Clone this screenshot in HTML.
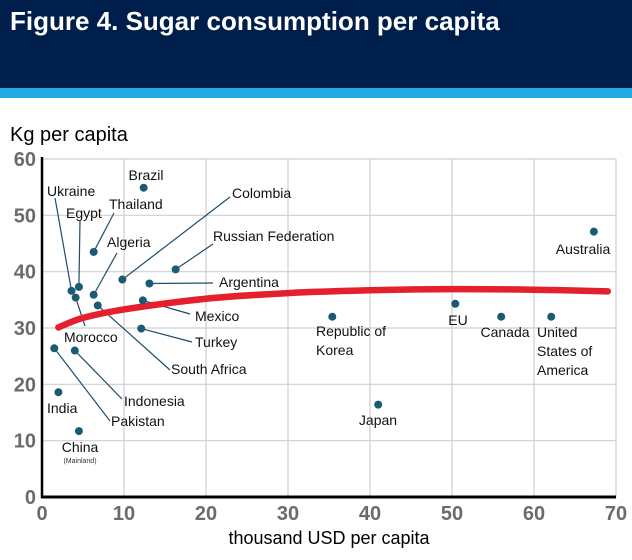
<!DOCTYPE html>
<html><head><meta charset="utf-8"><style>
html,body{margin:0;padding:0;background:#fff;}
body{width:632px;height:560px;overflow:hidden;position:relative;font-family:"Liberation Sans",sans-serif;}
#hdr{position:absolute;left:0;top:0;width:632px;height:88px;background:#001e4b;}
#stripe{position:absolute;left:0;top:88px;width:632px;height:10px;background:#22a9e1;}
#title{position:absolute;left:10px;top:6px;color:#fff;font-weight:bold;font-size:26px;}
svg{position:absolute;left:0;top:0;}
</style></head><body>
<div id="hdr"><div id="title">Figure 4. Sugar consumption per capita</div></div>
<div id="stripe"></div>
<svg id="chart" width="632" height="560"></svg>
<script>
const xTicks=[0,10,20,30,40,50,60,70];
const yTicks=[0,10,20,30,40,50,60];
const countries=["Brazil","Thailand","Colombia","Russian Federation","Argentina","Ukraine","Egypt","Morocco","Algeria","South Africa","Mexico","Turkey","Pakistan","Indonesia","India","China","Republic of Korea","Japan","EU","Canada","United States of America","Australia"];
const gdp=[12.4,6.3,9.8,16.3,13.1,3.6,4.5,4.1,6.3,6.8,12.3,12.1,1.5,4.0,2.0,4.5,35.4,41.0,50.4,56.0,62.1,67.3];
const sugar=[54.9,43.5,38.6,40.4,37.9,36.6,37.3,35.4,35.9,34.0,34.9,29.9,26.4,26.0,18.6,11.7,32.0,16.4,34.3,32.0,32.0,47.1];
const trendX=[2,5,10,20,30,40,50,60,69];
const trendY=[30.1,31.8,33.3,35.2,36.2,36.7,36.9,36.8,36.5];

const L=42,R=616,T=159,B=497;
const sx=v=>L+(v/70)*(R-L);
const sy=v=>B-(v/60)*(B-T);
const NS="http://www.w3.org/2000/svg";
const svg=document.getElementById('chart');
function mk(tag,attrs,parent){const e=document.createElementNS(NS,tag);for(const k in attrs)e.setAttribute(k,attrs[k]);(parent||svg).appendChild(e);return e;}

xTicks.forEach(t=>{if(t===0)return;
 const g=mk('line',{x1:sx(t),x2:sx(t),y1:T,y2:B,stroke:'#cfcfcf','stroke-width':1.2});
 
 });
yTicks.forEach(t=>{if(t===0)return;
 const g=mk('line',{x1:L,x2:R,y1:sy(t),y2:sy(t),stroke:'#cfcfcf','stroke-width':1.2});
 
 });
const ya=mk('line',{x1:L,x2:L,y1:T-2,y2:B+1,stroke:'#000','stroke-width':2.5});


const xa=mk('line',{x1:L-1,x2:R,y1:B,y2:B,stroke:'#000','stroke-width':3});


xTicks.forEach(t=>{const e=mk('text',{x:sx(t),y:B+23,'text-anchor':'middle','font-size':20,'font-weight':'bold',fill:'#6b6b6b'});e.textContent=t;
 
 });
yTicks.forEach(t=>{const e=mk('text',{x:L-6,y:sy(t)+7,'text-anchor':'end','font-size':20,'font-weight':'bold',fill:'#6b6b6b'});e.textContent=t;
 
 });
let e=mk('text',{x:10,y:141,'font-size':20,fill:'#000'});e.textContent='Kg  per capita';


e=mk('text',{x:329,y:544,'text-anchor':'middle','font-size':18,fill:'#000'});e.textContent='thousand USD per capita';



const labels=[
 [0,["Brazil"],146,180,'middle',null],
 [1,["Thailand"],109,209,'start',[114,213]],
 [2,["Colombia"],232,198,'start',[230,197]],
 [3,["Russian Federation"],213,241,'start',[213,244]],
 [4,["Argentina"],219,287,'start',[213,283]],
 [5,["Ukraine"],47,196,'start',[55,198]],
 [6,["Egypt"],66,218,'start',[80,221]],
 [7,["Morocco"],64,342,'start',[85,326]],
 [8,["Algeria"],107,247,'start',[117,253]],
 [9,["South Africa"],171,374,'start',[170,370]],
 [10,["Mexico"],195,321,'start',[190,314]],
 [11,["Turkey"],195,347,'start',[192,342]],
 [12,["Pakistan"],111,426,'start',[110,421]],
 [13,["Indonesia"],124,406,'start',[122,399]],
 [14,["India"],47,413,'start',null],
 [15,["China"],80,452,'middle',null],
 [16,["Republic of","Korea"],316,336,'start',null],
 [17,["Japan"],378,425,'middle',null],
 [18,["EU"],458,325,'middle',null],
 [19,["Canada"],505,337,'middle',null],
 [20,["United","States of","America"],537,337,'start',null],
 [21,["Australia"],583,254,'middle',null]
];
labels.forEach(l=>{
 const i=l[0];
 if(l[5]){const ln=mk('line',{x1:l[5][0],y1:l[5][1],x2:sx(gdp[i]),y2:sy(sugar[i]),stroke:'#1e4d6b','stroke-width':1.2});
  
  }
 l[1].forEach((s,k)=>{const t=mk('text',{x:l[2],y:l[3]+k*19,'text-anchor':l[4],'font-size':14,fill:'#111'});t.textContent=s;
  
  });
});
e=mk('text',{x:80,y:463,'text-anchor':'middle','font-size':7,fill:'#333'});e.textContent='(Mainland)';



// smooth trend line (Catmull-Rom)
const P=trendX.map((v,i)=>[sx(v),sy(trendY[i])]);
let d='M'+P[0][0]+','+P[0][1];
for(let i=0;i<P.length-1;i++){
 const p0=P[Math.max(0,i-1)],p1=P[i],p2=P[i+1],p3=P[Math.min(P.length-1,i+2)];
 const c1=[p1[0]+(p2[0]-p0[0])/6,p1[1]+(p2[1]-p0[1])/6];
 const c2=[p2[0]-(p3[0]-p1[0])/6,p2[1]-(p3[1]-p1[1])/6];
 d+='C'+c1[0]+','+c1[1]+' '+c2[0]+','+c2[1]+' '+p2[0]+','+p2[1];
}
const tr=mk('path',{d:d,fill:'none',stroke:'#e4202d','stroke-width':6.5,'stroke-linecap':'round','stroke-linejoin':'round'});



gdp.forEach((v,i)=>{const c=mk('circle',{cx:sx(v),cy:sy(sugar[i]),r:4,fill:'#1b5a73'});
 
 });
</script>
</body></html>
